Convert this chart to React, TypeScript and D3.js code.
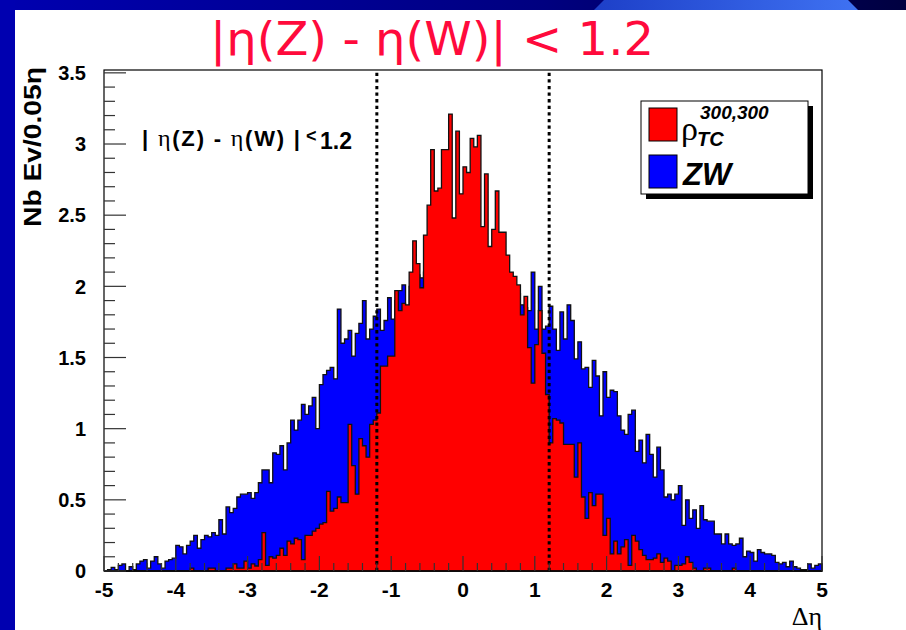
import React from 'react';
import * as d3 from 'd3';

// Histogram of Δη, 200 bins of width 0.05 from -5 to 5
const binLow = -5;
const binWidth = 0.05;

const zwValues: number[] = [
  0.0, 0.01, 0.025, 0.01, 0.04, 0.05, 0.0, 0.03, 0.01, 0.05,
  0.07, 0.08, 0.02, 0.07, 0.10, 0.05, 0.02, 0.07, 0.08, 0.09,
  0.18, 0.17, 0.12, 0.18, 0.21, 0.25, 0.16, 0.22, 0.25, 0.24,
  0.27, 0.25, 0.36, 0.26, 0.45, 0.41, 0.44, 0.52, 0.54, 0.54,
  0.55, 0.51, 0.55, 0.62, 0.71, 0.71, 0.62, 0.83, 0.82, 0.88,
  0.71, 0.90, 1.06, 0.99, 1.06, 1.17, 1.10, 1.16, 1.22, 1.00,
  1.31, 1.38, 1.41, 1.43, 1.35, 1.84, 1.60, 1.63, 1.69, 1.51,
  1.67, 1.74, 1.90, 1.63, 1.70, 1.79, 1.84, 1.69, 1.76, 1.92,
  1.77, 1.90, 1.97, 2.01, 1.85, 2.00, 2.05, 2.08, 2.06, 2.10,
  2.12, 2.08, 2.15, 2.10, 2.18, 2.12, 2.15, 2.20, 2.10, 2.14,
  2.18, 2.12, 2.10, 2.16, 2.08, 2.12, 2.10, 2.15, 2.06, 2.12,
  2.05, 2.10, 2.02, 2.00, 1.98, 1.95, 1.87, 1.85, 1.83, 2.10,
  1.70, 2.00, 1.70, 1.72, 1.86, 1.70, 1.55, 1.82, 1.63, 1.87,
  1.76, 1.49, 1.61, 1.42, 1.43, 1.29, 1.48, 1.37, 1.09, 1.40,
  1.22, 1.27, 1.26, 1.09, 0.99, 0.96, 1.10, 1.13, 0.84, 0.92,
  0.76, 0.96, 0.82, 0.66, 0.87, 0.71, 0.52, 0.54, 0.50, 0.54,
  0.60, 0.32, 0.50, 0.37, 0.43, 0.30, 0.46, 0.36, 0.35, 0.35,
  0.26, 0.26, 0.19, 0.26, 0.19, 0.18, 0.19, 0.23, 0.10, 0.14,
  0.13, 0.07, 0.15, 0.13, 0.12, 0.12, 0.11, 0.06, 0.05, 0.06,
  0.03, 0.07, 0.03, 0.02, 0.01, 0.01, 0.05, 0.02, 0.04, 0.05,
];

const rhoValues: number[] = [
  0, 0, 0, 0, 0, 0, 0, 0, 0, 0,
  0, 0, 0, 0, 0, 0, 0, 0, 0, 0,
  0, 0, 0, 0, 0.02, 0, 0, 0, 0, 0.02,
  0.02, 0, 0, 0, 0.02, 0.02, 0.05, 0.02, 0.02, 0.07,
  0.02, 0.05, 0.035, 0.08, 0.27, 0.04, 0.10, 0.09, 0.11, 0.16,
  0.11, 0.21, 0.19, 0.23, 0.22, 0.08, 0.25, 0.25, 0.28, 0.30,
  0.33, 0.34, 0.56, 0.42, 0.44, 0.52, 0.48, 0.48, 1.03, 0.74,
  0.54, 0.93, 0.88, 0.80, 1.03, 1.06, 1.11, 1.44, 1.44, 1.51,
  1.51, 1.97, 1.83, 1.88, 1.87, 2.10, 2.32, 2.16, 1.99, 2.36,
  2.57, 2.96, 2.67, 2.69, 2.96, 2.96, 3.21, 2.48, 3.09, 2.65,
  2.84, 2.80, 3.04, 2.98, 3.06, 2.42, 2.79, 2.28, 2.40, 2.67,
  2.38, 2.38, 2.22, 2.10, 2.07, 2.01, 1.80, 1.93, 1.57, 1.32,
  1.59, 1.83, 1.53, 1.24, 0.90, 1.07, 1.06, 1.04, 0.89, 0.89,
  0.89, 0.66, 0.90, 0.52, 0.37, 0.55, 0.46, 0.54, 0.54, 0.25,
  0.37, 0.12, 0.21, 0.12, 0.17, 0.22, 0.04, 0.25, 0.21, 0.15,
  0.11, 0.08, 0.08, 0.09, 0.12, 0.06, 0.09, 0.07, 0, 0.04,
  0.04, 0.05, 0.10, 0.06, 0.02, 0, 0, 0.02, 0.02, 0,
  0, 0, 0, 0, 0, 0.02, 0, 0, 0, 0,
  0, 0, 0, 0, 0, 0, 0, 0, 0, 0,
  0, 0, 0, 0, 0, 0, 0, 0, 0, 0,
];

const xTicks = [-5, -4, -3, -2, -1, 0, 1, 2, 3, 4, 5];
const xTickLabels = ['-5', '-4', '-3', '-2', '-1', '0', '1', '2', '3', '4', '5'];
const yTicks = [0, 0.5, 1, 1.5, 2, 2.5, 3, 3.5];
const yTickLabels = ['0', '0.5', '1', '1.5', '2', '2.5', '3', '3.5'];
const cutLines = [-1.2, 1.2];

const SANS = '"Liberation Sans", Arial, Helvetica, sans-serif';
const SERIF = '"Liberation Serif", "Times New Roman", serif';

export default function App() {
  const W = 906;
  const H = 630;
  const x = d3.scaleLinear().domain([-5, 5]).range([104, 822]);
  const y = d3.scaleLinear().domain([0, 3.52]).range([571, 70]);

  const stepPath = (vals: number[]) => {
    const p = d3.path();
    p.moveTo(x(binLow), y(0));
    vals.forEach((v, i) => {
      const x0 = x(binLow + i * binWidth);
      const x1 = x(binLow + (i + 1) * binWidth);
      p.lineTo(x0, y(v));
      p.lineTo(x1, y(v));
    });
    p.lineTo(x(5), y(0));
    p.closePath();
    return p.toString();
  };

  const yMinor = d3.range(0, 36).map((i) => i * 0.1);
  const xMinor = d3.range(0, 51).map((i) => -5 + i * 0.2);

  return (
    <svg
      width={W}
      height={H}
      style={{ position: 'absolute', left: 0, top: 0, display: 'block' }}
      xmlns="http://www.w3.org/2000/svg"
    >
      <defs>
        <linearGradient id="topbar" x1="0" x2="1" y1="0" y2="0">
          <stop offset="0" stopColor="#0000b0" />
          <stop offset="0.6" stopColor="#000080" />
          <stop offset="1" stopColor="#000040" />
        </linearGradient>
        <linearGradient id="swoosh" x1="0" x2="1" y1="0" y2="0">
          <stop offset="0" stopColor="#1d3fc8" />
          <stop offset="1" stopColor="#3f72f2" />
        </linearGradient>
      </defs>
      <rect x={0} y={0} width={W} height={H} fill="#ffffff" />
      {/* slide decorations */}
      <rect x={0} y={0} width={W} height={10} fill="url(#topbar)" />
      <polygon points="594,10 604,0 848,0 858,10" fill="url(#swoosh)" />
      <rect x={0} y={0} width={15} height={H} fill="#0000b0" />

      {/* slide title */}
      <text
        x={432}
        y={55}
        textAnchor="middle"
        fill="#ff0a3c"
        fontFamily='"DejaVu Sans", sans-serif'
        fontSize={47}
        textLength={444}
        lengthAdjust="spacingAndGlyphs"
      >
        |η(Z) - η(W)| &lt; 1.2
      </text>

      {/* histograms */}
      <path d={stepPath(zwValues)} fill="#0000ff" stroke="#111" strokeWidth={1.3} />
      <path d={stepPath(rhoValues)} fill="#ff0000" stroke="#111" strokeWidth={1.3} />

      {/* cut lines */}
      {cutLines.map((c) => (
        <line
          key={c}
          x1={x(c)}
          x2={x(c)}
          y1={y(0)}
          y2={70}
          stroke="#000"
          strokeWidth={3}
          strokeDasharray="3.3 3.3"
        />
      ))}

      {/* frame */}
      <rect x={104} y={70} width={718} height={501} fill="none" stroke="#000" strokeWidth={1.2} />

      {/* y ticks */}
      {yMinor.map((t, i) => (
        <line
          key={'ym' + i}
          x1={104}
          x2={104 + (i % 5 === 0 ? 22 : 11)}
          y1={y(t)}
          y2={y(t)}
          stroke="#333"
          strokeWidth={1.2}
        />
      ))}
      {yTicks.map((t, i) => (
        <text
          key={'yl' + t}
          x={86}
          y={y(t)}
          dy="0.36em"
          textAnchor="end"
          fontFamily={SANS}
          fontWeight="bold"
          fontSize={20}
          fill="#000"
        >
          {yTickLabels[i]}
        </text>
      ))}

      {/* x ticks */}
      {xMinor.map((t, i) => (
        <line
          key={'xm' + i}
          x1={x(t)}
          x2={x(t)}
          y1={571}
          y2={571 - (i % 5 === 0 ? 15 : 8)}
          stroke="#333"
          strokeWidth={1.2}
        />
      ))}
      {xTicks.map((t, i) => (
        <text
          key={'xl' + t}
          x={x(t)}
          y={597}
          textAnchor="middle"
          fontFamily={SANS}
          fontWeight="bold"
          fontSize={21}
          fill="#000"
        >
          {xTickLabels[i]}
        </text>
      ))}

      {/* axis titles */}
      <text x={822} y={625} textAnchor="end" fontFamily={SERIF} fontSize={26} fill="#000">
        Δη
      </text>
      <text
        transform="translate(41,67) rotate(-90)"
        textAnchor="end"
        fontFamily={SANS}
        fontWeight="bold"
        fontSize={23}
        fill="#000"
        textLength={160}
        lengthAdjust="spacingAndGlyphs"
      >
        Nb Ev/0.05η
      </text>

      {/* in-plot label */}
      <text
        x={142}
        y={146}
        fontFamily={SANS}
        fontWeight="bold"
        fontSize={22}
        fill="#000"
        textLength={158}
        lengthAdjust="spacing"
      >
        <tspan>| </tspan>
        <tspan fontFamily={SERIF} fontWeight="normal" fontSize={24}>η</tspan>
        <tspan>(Z) - </tspan>
        <tspan fontFamily={SERIF} fontWeight="normal" fontSize={24}>η</tspan>
        <tspan>(W) |</tspan>
      </text>
      <text x={306} y={142} fontFamily={SANS} fontWeight="bold" fontSize={18} fill="#000">
        &lt;
      </text>
      <text x={320} y={149} fontFamily={SANS} fontWeight="bold" fontSize={23} fill="#000">
        1.2
      </text>

      {/* legend */}
      <rect x={646} y={106} width={167} height={93} fill="#000" />
      <rect x={641} y={101} width={167} height={93} fill="#fff" stroke="#000" strokeWidth={1} />
      <rect x={649} y={108} width={28} height={33} fill="#ff0000" stroke="#000" strokeWidth={1} />
      <rect x={649} y={155} width={28} height={33} fill="#0000ff" stroke="#000" strokeWidth={1} />
      <text x={681} y={140} fontFamily={SERIF} fontSize={34} fill="#000">
        ρ
      </text>
      <text x={700} y={119} fontFamily={SANS} fontWeight="bold" fontStyle="italic" fontSize={19} fill="#000">
        300,300
      </text>
      <text x={697} y={146} fontFamily={SANS} fontWeight="bold" fontStyle="italic" fontSize={20} fill="#000">
        TC
      </text>
      <text x={683} y={185} fontFamily={SANS} fontWeight="bold" fontStyle="italic" fontSize={31} fill="#000">
        ZW
      </text>
    </svg>
  );
}
